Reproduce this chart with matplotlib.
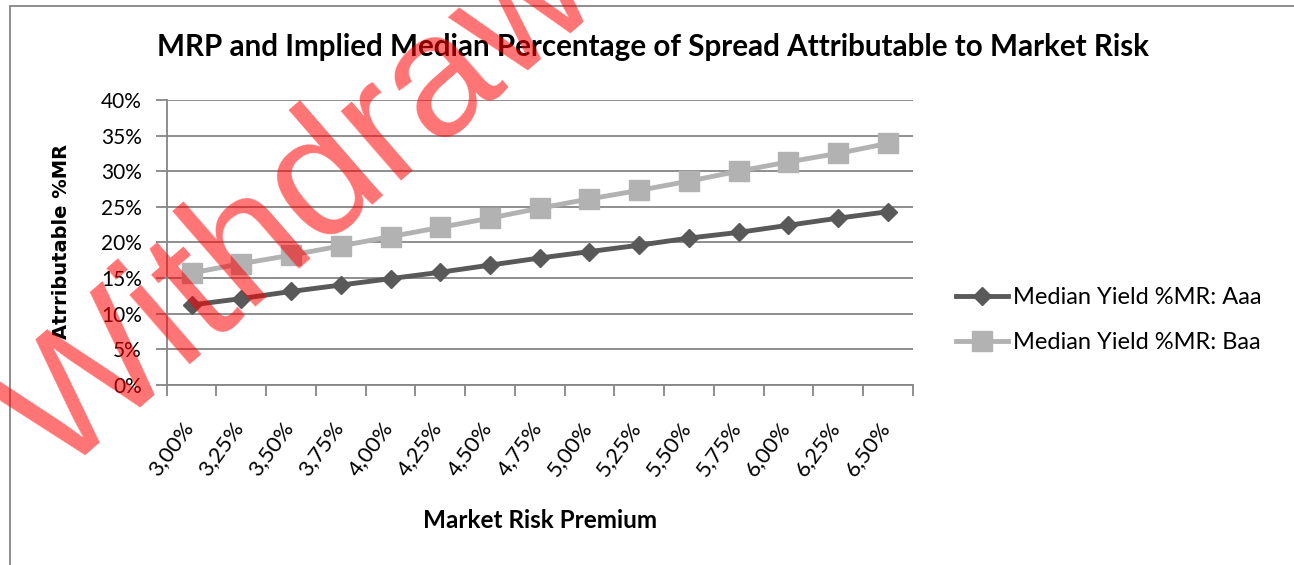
import matplotlib
matplotlib.use('Agg')
import matplotlib.pyplot as plt
from matplotlib.patches import Rectangle
from matplotlib.ticker import FixedLocator, PercentFormatter
import matplotlib.transforms as mtransforms

# 数据
mrp_labels = ['3,00%', '3,25%', '3,50%', '3,75%', '4,00%', '4,25%', '4,50%', '4,75%',
              '5,00%', '5,25%', '5,50%', '5,75%', '6,00%', '6,25%', '6,50%']
aaa = [11.2, 12.1, 13.1, 14.0, 14.9, 15.8, 16.8, 17.8, 18.7, 19.6, 20.6, 21.4, 22.4, 23.4, 24.3]
baa = [15.7, 17.0, 18.2, 19.5, 20.8, 22.1, 23.4, 24.8, 26.1, 27.3, 28.6, 30.0, 31.3, 32.5, 33.9]
y_ticks = [0, 5, 10, 15, 20, 25, 30, 35, 40]

plt.rcParams['font.family'] = ['Lato', 'DejaVu Sans']
grid_c = '#868686'

W, H = 1294, 565
fig = plt.figure(figsize=(W / 100, H / 100), dpi=100)
ax = fig.add_axes([166.7 / W, 1 - 384.7 / H, (912.7 - 166.7) / W, (384.7 - 100) / H])

x = list(range(len(mrp_labels)))
ax.plot(x, aaa, color='#595959', lw=3.5, marker='D', ms=9.5, label='Median Yield %MR: Aaa', zorder=3)
ax.plot(x, baa, color='#b2b2b2', lw=3.5, marker='s', ms=14, label='Median Yield %MR: Baa', zorder=3)

ax.set_xlim(-0.5, len(mrp_labels) - 0.5)
ax.set_ylim(0, 40)
ax.yaxis.set_major_locator(FixedLocator(y_ticks))
ax.yaxis.set_major_formatter(PercentFormatter(decimals=0))
ax.grid(axis='y', color=grid_c, lw=1.3)
ax.set_axisbelow(True)

ax.set_xticks(x)
ax.set_xticklabels(mrp_labels, rotation=54, ha='right', va='top')
ax.set_xticks([i - 0.5 for i in range(len(mrp_labels) + 1)], minor=True)
ax.tick_params(axis='x', which='major', length=0, pad=24, labelsize=16)
ax.tick_params(axis='x', which='minor', length=8, width=1.3, color=grid_c)
ax.tick_params(axis='y', length=8, width=1.3, color=grid_c, pad=10, labelsize=15)
off = mtransforms.ScaledTranslation(6 / 100, 0, fig.dpi_scale_trans)
for lab in ax.get_xticklabels():
    lab.set_transform(lab.get_transform() + off)

for s in ['top', 'right']:
    ax.spines[s].set_visible(False)
for s in ['left', 'bottom']:
    ax.spines[s].set_color(grid_c)
    ax.spines[s].set_linewidth(1.3)

fig.text(653 / W, 1 - 47 / H, 'MRP and Implied Median Percentage of Spread Attributable to Market Risk',
         ha='center', va='center', fontsize=21.3, fontweight='bold')
fig.text(62 / W, 1 - 241 / H, 'Atrributable %MR', rotation=90, ha='center', va='center',
         fontsize=14, fontweight='bold', family='DejaVu Sans')
fig.text(540 / W, 1 - 521 / H, 'Market Risk Premium', ha='center', va='center',
         fontsize=17.5, fontweight='bold')

fig.legend(loc='center left', bbox_to_anchor=(935 / W, 1 - 320 / H), frameon=False,
           fontsize=17, handlelength=2.2, handletextpad=0.2, labelspacing=1.0)

# 外框
fig.patches.append(Rectangle((10 / W, -0.1), 1.2, 1 - 6 / H + 0.1, transform=fig.transFigure,
                             fill=False, edgecolor=grid_c, lw=1.3))

# 水印
fig.text(58 / W, 1 - 478 / H, 'Withdrawn', rotation=41, rotation_mode='anchor',
         ha='left', va='baseline', fontsize=125, color='red', alpha=0.55,
         family='Liberation Sans', zorder=10)

fig.savefig('out.png', dpi=100)
